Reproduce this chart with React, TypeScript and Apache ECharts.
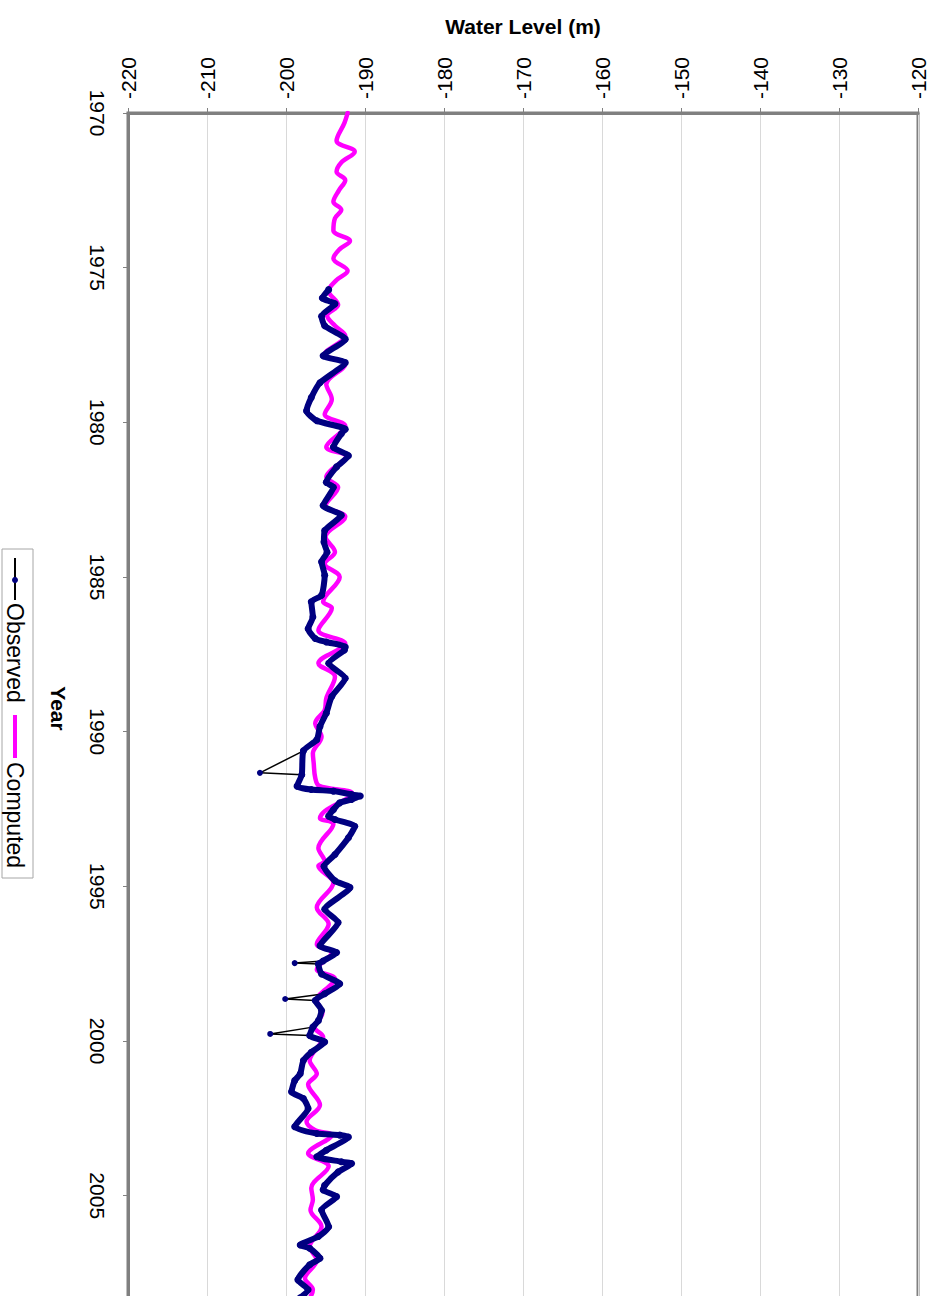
import React, { useEffect, useRef } from "react";
import * as echarts from "echarts";

// Computed water level (m) by decimal year
const computedYears = [
  1970.0, 1970.32, 1970.9, 1971.25, 1971.6, 1971.9, 1972.17, 1972.5, 1972.87, 1973.13,
  1973.4, 1973.8, 1974.14, 1974.4, 1974.7, 1975.1, 1975.4, 1975.75, 1976.2, 1976.55,
  1976.88, 1977.2, 1977.8, 1978.12, 1978.77, 1979.25, 1979.74, 1980.12, 1980.8, 1981.1,
  1981.77, 1982.1, 1982.7, 1983.05, 1983.7, 1984.19, 1984.57, 1985.0, 1985.8, 1986.0,
  1986.72, 1987.15, 1987.79, 1988.22, 1988.92, 1989.3, 1989.73, 1990.16, 1990.7, 1991.0,
  1991.49, 1991.75, 1992.0, 1992.57, 1992.79, 1992.98, 1993.76, 1994.19, 1994.34, 1994.88,
  1995.68, 1996.22, 1996.87, 1997.14, 1997.68, 1997.99, 1998.69, 1999.1, 1999.55, 1999.87,
  2000.63, 2001.06, 2001.4, 2002.07, 2002.61, 2002.88, 2003.04, 2003.63, 2004.05, 2004.75,
  2005.13, 2005.46, 2006.0, 2006.65, 2007.08, 2007.67, 2008.04, 2008.5,
];
const computedLevels = [
  -192.2, -192.6, -193.6, -191.3, -193.0, -193.6, -192.5, -193.3, -194.0, -193.0,
  -193.8, -194.0, -191.9, -193.2, -194.0, -192.2, -193.6, -194.6, -193.4, -194.8,
  -193.8, -192.5, -195.1, -192.5, -194.9, -194.2, -195.1, -192.5, -194.9, -192.4,
  -194.9, -193.4, -195.0, -192.5, -195.0, -193.8, -195.1, -193.2, -195.3, -194.2,
  -195.9, -192.5, -195.9, -193.8, -194.9, -195.1, -196.3, -195.5, -196.6, -196.5,
  -196.3, -195.8, -191.6, -195.1, -195.7, -194.0, -195.9, -195.1, -195.9, -194.0,
  -196.1, -194.6, -196.1, -194.2, -196.1, -193.8, -196.1, -195.4, -196.4, -195.3,
  -197.0, -196.1, -197.2, -195.7, -197.4, -196.3, -194.2, -197.2, -194.6, -196.8,
  -196.6, -196.9, -195.5, -197.0, -196.1, -197.6, -196.6, -197.5,
];

// Observed water level (m) by decimal year
const observedYears = [
  1975.71, 1975.98, 1976.17, 1976.57, 1976.88, 1977.31, 1977.85, 1978.07, 1978.72, 1979.2,
  1979.63, 1979.95, 1980.22, 1980.37, 1980.8, 1981.08, 1981.44, 1981.94, 1982.1, 1982.69,
  1983.0, 1983.5, 1983.87, 1984.2, 1984.51, 1984.94, 1985.59, 1985.8, 1986.29, 1986.67,
  1986.99, 1987.1, 1987.26, 1987.36, 1987.79, 1988.27, 1988.86, 1989.4, 1989.83, 1990.26,
  1990.62, 1991.39, 1991.76, 1991.87, 1991.92, 1992.03, 1992.08, 1992.19, 1992.3, 1992.52,
  1992.73, 1992.84, 1993.06, 1993.43, 1993.97, 1994.35, 1994.82, 1995.04, 1995.74, 1996.17,
  1996.92, 1997.14, 1997.41, 1997.51, 1997.83, 1998.15, 1998.47, 1998.69, 1999.01, 1999.34,
  1999.55, 1999.82, 2000.03, 2000.36, 2000.63, 2001.06, 2001.28, 2001.64, 2001.86, 2002.18,
  2002.77, 2002.99, 2003.04, 2003.1, 2003.53, 2003.74, 2003.9, 2003.96, 2004.23, 2004.66,
  2004.81, 2005.03, 2005.46, 2006.0, 2006.32, 2006.59, 2006.7, 2007.02, 2007.23, 2007.72,
  2008.04, 2008.3,
];
const observedLevels = [
  -194.6, -195.4, -193.8, -195.5, -195.1, -192.5, -195.3, -192.5, -195.7, -196.8,
  -197.4, -196.1, -192.5, -193.0, -194.0, -192.1, -193.6, -194.9, -194.0, -195.3,
  -193.0, -195.1, -195.2, -194.8, -195.5, -195.1, -195.5, -196.8, -196.6, -197.2,
  -196.3, -194.9, -192.5, -192.6, -194.6, -192.5, -194.2, -194.9, -195.7, -196.1,
  -197.8, -198.0, -198.6, -196.8, -194.0, -191.7, -190.6, -191.7, -193.2, -194.0,
  -194.6, -193.8, -191.3, -192.1, -193.8, -195.2, -193.8, -191.9, -195.1, -193.4,
  -195.7, -193.6, -195.3, -195.9, -195.5, -193.2, -195.1, -196.3, -195.5, -195.9,
  -196.6, -197.0, -195.1, -196.8, -197.8, -198.2, -198.9, -199.3, -197.8, -197.2,
  -198.9, -196.1, -193.2, -192.1, -194.9, -196.1, -193.0, -191.7, -193.4, -195.1,
  -195.3, -193.6, -195.5, -194.6, -195.9, -198.2, -197.0, -195.7, -197.0, -198.5,
  -197.2, -198.2,
];

// Isolated observed outliers
const spikeYears = [1991.33, 1997.48, 1998.64, 1999.77];
const spikeLevels = [-203.3, -198.9, -200.1, -202.0];

// Axis ticks
const levelTicks = { min: -220, max: -120, step: 10 };
const yearTicks = { min: 1970, max: 2008.5, step: 5 };

const FONT = "Liberation Sans, Arial, sans-serif";

export default function App() {
  const ref = useRef<HTMLDivElement>(null);

  useEffect(() => {
    if (!ref.current) return;
    const chart = echarts.init(ref.current, undefined, { renderer: "svg" });

    const computedData = computedYears.map((y, i) => [computedLevels[i], y]);
    const observedData = observedYears.map((y, i) => [observedLevels[i], y]);

    const spikeSeries = spikeYears.map((sy, k) => {
      let prev = 0;
      for (let i = 0; i < observedYears.length; i++) if (observedYears[i] < sy) prev = i;
      const next = Math.min(prev + 1, observedYears.length - 1);
      return {
        type: "line",
        name: "spike" + k,
        data: [
          [observedLevels[prev], observedYears[prev]],
          [spikeLevels[k], sy],
          [observedLevels[next], observedYears[next]],
        ],
        symbol: "circle",
        symbolSize: 6,
        showSymbol: true,
        itemStyle: { color: "#000080" },
        lineStyle: { color: "#000000", width: 1.5 },
        z: 3,
        silent: true,
      };
    });

    const option: any = {
      animation: false,
      backgroundColor: "#ffffff",
      grid: {
        left: 128,
        right: 19,
        top: 113,
        bottom: 26,
        show: true,
        borderColor: "#808080",
        borderWidth: 3,
        backgroundColor: "#ffffff",
      },
      xAxis: {
        type: "value",
        position: "top",
        min: levelTicks.min,
        max: levelTicks.max,
        interval: levelTicks.step,
        name: "Water Level (m)",
        nameLocation: "middle",
        nameGap: 76,
        nameTextStyle: { fontFamily: FONT, fontSize: 21, fontWeight: "bold", color: "#000" },
        axisLine: { show: true, lineStyle: { color: "#808080", width: 3 } },
        axisTick: { show: true, length: 5, lineStyle: { color: "#808080" } },
        axisLabel: { rotate: -90, margin: 14, fontFamily: FONT, fontSize: 21, color: "#000" },
        splitLine: { show: true, lineStyle: { color: "#d9d9d9", width: 1 } },
      },
      yAxis: {
        type: "value",
        inverse: true,
        min: yearTicks.min,
        max: yearTicks.max,
        interval: yearTicks.step,
        name: "Year",
        nameLocation: "middle",
        nameRotate: -90,
        nameGap: 59,
        nameTextStyle: { fontFamily: FONT, fontSize: 21, fontWeight: "bold", color: "#000" },
        axisLine: { show: true, lineStyle: { color: "#808080", width: 3 } },
        axisTick: { show: true, length: 5, lineStyle: { color: "#808080" } },
        axisLabel: {
          rotate: -90,
          margin: 20,
          showMaxLabel: false,
          fontFamily: FONT,
          fontSize: 21,
          color: "#000",
          formatter: (v: number) => (Math.abs(v % 5) < 1e-6 ? String(v) : ""),
        },
        splitLine: { show: false },
      },
      series: [
        {
          type: "line",
          name: "Computed",
          data: computedData,
          showSymbol: false,
          smooth: 0.35,
          lineStyle: { color: "#ff00ff", width: 4.5, join: "round", cap: "round" },
          itemStyle: { color: "#ff00ff" },
          z: 2,
          silent: true,
        },
        ...spikeSeries,
        {
          type: "line",
          name: "Observed",
          data: observedData,
          symbol: "circle",
          symbolSize: 7,
          showSymbol: true,
          smooth: 0.2,
          lineStyle: { color: "#000080", width: 6, join: "round", cap: "round" },
          itemStyle: { color: "#000080" },
          z: 4,
          silent: true,
        },
      ],
      graphic: [
        {
          type: "group",
          x: 33,
          y: 549,
          rotation: -Math.PI / 2,
          children: [
            {
              type: "rect",
              shape: { x: 0, y: 0, width: 329, height: 31 },
              style: { fill: "#ffffff", stroke: "#a6a6a6", lineWidth: 1 },
            },
            {
              type: "line",
              shape: { x1: 9, y1: 18, x2: 51, y2: 18 },
              style: { stroke: "#000000", lineWidth: 2 },
            },
            {
              type: "circle",
              shape: { cx: 31, cy: 18, r: 3 },
              style: { fill: "#000080" },
            },
            {
              type: "text",
              x: 54,
              y: 18,
              style: {
                text: "Observed",
                fontFamily: FONT,
                fontSize: 23,
                fill: "#000",
                verticalAlign: "middle",
                align: "left",
              },
            },
            {
              type: "line",
              shape: { x1: 166, y1: 18, x2: 209, y2: 18 },
              style: { stroke: "#ff00ff", lineWidth: 4 },
            },
            {
              type: "text",
              x: 213,
              y: 18,
              style: {
                text: "Computed",
                fontFamily: FONT,
                fontSize: 23,
                fill: "#000",
                verticalAlign: "middle",
                align: "left",
              },
            },
          ],
        },
      ],
    };

    chart.setOption(option);
    return () => chart.dispose();
  }, []);

  return (
    <div
      style={{
        position: "fixed",
        left: 0,
        top: 0,
        width: 937,
        height: 1296,
        overflow: "hidden",
        background: "#ffffff",
      }}
    >
      <div ref={ref} style={{ width: 937, height: 1330 }} />
    </div>
  );
}
